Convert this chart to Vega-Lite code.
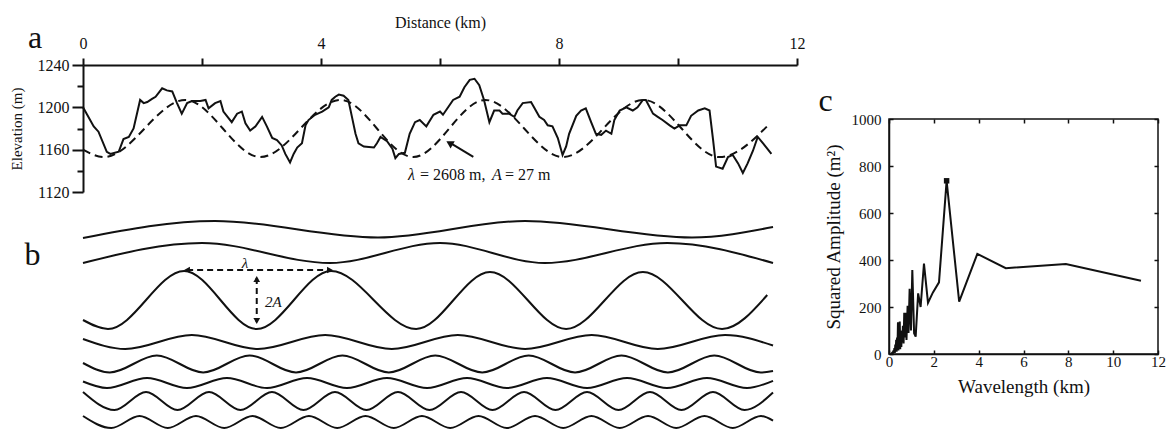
{
  "$schema": "https://vega.github.io/schema/vega-lite/v6.json",
  "background": "white",
  "padding": {"left": 9, "top": 14, "right": 0, "bottom": 0},
  "config": {
    "view": {"stroke": null},
    "font": "Liberation Serif",
    "axis": {"grid": false, "domainColor": "#111", "tickColor": "#111", "labelColor": "#111", "titleColor": "#111", "labelFont": "Liberation Serif", "titleFont": "Liberation Serif", "titleFontWeight": "normal", "labelFlush": false, "labelOverlap": false}
  },
  "datasets": {
    "solid": [
      {"x":0,"y":1200},{"x":0.08,"y":1192},{"x":0.18,"y":1182},{"x":0.26,"y":1177},{"x":0.40,"y":1158},{"x":0.46,"y":1156},{"x":0.6,"y":1158},{"x":0.68,"y":1170},{"x":0.77,"y":1172},{"x":0.85,"y":1180},{"x":0.96,"y":1207},{"x":1.02,"y":1204},{"x":1.08,"y":1205},{"x":1.16,"y":1208},{"x":1.22,"y":1210},{"x":1.33,"y":1218},{"x":1.41,"y":1216},{"x":1.5,"y":1215},{"x":1.58,"y":1204},{"x":1.66,"y":1194},{"x":1.75,"y":1204},{"x":1.83,"y":1206},{"x":1.97,"y":1206},{"x":2.06,"y":1207},{"x":2.11,"y":1199},{"x":2.22,"y":1204},{"x":2.31,"y":1206},{"x":2.36,"y":1196},{"x":2.50,"y":1186},{"x":2.59,"y":1194},{"x":2.67,"y":1196},{"x":2.73,"y":1185},{"x":2.81,"y":1178},{"x":2.9,"y":1182},{"x":3.01,"y":1191},{"x":3.09,"y":1182},{"x":3.18,"y":1171},{"x":3.26,"y":1169},{"x":3.34,"y":1164},{"x":3.40,"y":1156},{"x":3.48,"y":1148},{"x":3.54,"y":1156},{"x":3.6,"y":1162},{"x":3.68,"y":1166},{"x":3.74,"y":1183},{"x":3.79,"y":1188},{"x":3.90,"y":1193},{"x":4.02,"y":1196},{"x":4.13,"y":1200},{"x":4.18,"y":1207},{"x":4.24,"y":1210},{"x":4.30,"y":1212},{"x":4.38,"y":1211},{"x":4.46,"y":1207},{"x":4.52,"y":1191},{"x":4.58,"y":1175},{"x":4.63,"y":1166},{"x":4.72,"y":1163},{"x":4.89,"y":1162},{"x":4.94,"y":1166},{"x":5.0,"y":1172},{"x":5.11,"y":1168},{"x":5.2,"y":1161},{"x":5.25,"y":1152},{"x":5.31,"y":1156},{"x":5.41,"y":1157},{"x":5.49,"y":1175},{"x":5.58,"y":1186},{"x":5.66,"y":1188},{"x":5.77,"y":1182},{"x":5.89,"y":1193},{"x":6.0,"y":1196},{"x":6.05,"y":1193},{"x":6.22,"y":1207},{"x":6.33,"y":1210},{"x":6.41,"y":1219},{"x":6.5,"y":1226},{"x":6.58,"y":1227},{"x":6.66,"y":1221},{"x":6.74,"y":1207},{"x":6.83,"y":1186},{"x":6.91,"y":1197},{"x":7.0,"y":1197},{"x":7.05,"y":1194},{"x":7.16,"y":1194},{"x":7.25,"y":1191},{"x":7.3,"y":1197},{"x":7.39,"y":1204},{"x":7.53,"y":1205},{"x":7.58,"y":1200},{"x":7.67,"y":1191},{"x":7.75,"y":1188},{"x":7.81,"y":1183},{"x":7.89,"y":1182},{"x":7.98,"y":1171},{"x":8.06,"y":1155},{"x":8.12,"y":1163},{"x":8.17,"y":1175},{"x":8.29,"y":1192},{"x":8.37,"y":1197},{"x":8.45,"y":1199},{"x":8.54,"y":1186},{"x":8.62,"y":1175},{"x":8.71,"y":1174},{"x":8.79,"y":1178},{"x":8.88,"y":1175},{"x":8.93,"y":1188},{"x":9.02,"y":1197},{"x":9.13,"y":1200},{"x":9.24,"y":1197},{"x":9.32,"y":1200},{"x":9.41,"y":1207},{"x":9.46,"y":1207},{"x":9.58,"y":1194},{"x":9.66,"y":1191},{"x":9.74,"y":1188},{"x":9.86,"y":1183},{"x":9.94,"y":1180},{"x":10.03,"y":1183},{"x":10.14,"y":1183},{"x":10.22,"y":1192},{"x":10.34,"y":1197},{"x":10.45,"y":1199},{"x":10.53,"y":1197},{"x":10.59,"y":1169},{"x":10.64,"y":1144},{"x":10.75,"y":1142},{"x":10.84,"y":1153},{"x":10.92,"y":1155},{"x":11.01,"y":1147},{"x":11.09,"y":1138},{"x":11.17,"y":1147},{"x":11.26,"y":1159},{"x":11.34,"y":1172},{"x":11.43,"y":1166},{"x":11.57,"y":1156}
    ],
    "dashed": [
      {"x":0,"y":1160},{"x":0.35,"y":1153},{"x":1.72,"y":1207},{"x":2.98,"y":1153},{"x":4.33,"y":1207},{"x":5.55,"y":1153},{"x":6.76,"y":1207},{"x":8.07,"y":1153},{"x":9.42,"y":1207},{"x":10.70,"y":1153},{"x":11.55,"y":1185}
    ],
    "curves": [
      {"c":"1","x":0,"y":190},{"c":"1","x":2.218,"y":207},{"c":"1","x":4.958,"y":190.5},{"c":"1","x":7.429,"y":207},{"c":"1","x":10.235,"y":190.5},{"c":"1","x":11.597,"y":201},
      {"c":"2","x":0,"y":165},{"c":"2","x":2.0,"y":185},{"c":"2","x":4.15,"y":165},{"c":"2","x":6.0,"y":185},{"c":"2","x":7.76,"y":165},{"c":"2","x":9.82,"y":185},{"c":"2","x":11.597,"y":165},
      {"c":"3","x":0,"y":108},{"c":"3","x":0.42,"y":99},{"c":"3","x":1.70,"y":157},{"c":"3","x":2.92,"y":99},{"c":"3","x":4.17,"y":157},{"c":"3","x":5.60,"y":99},{"c":"3","x":6.84,"y":156},{"c":"3","x":8.12,"y":99},{"c":"3","x":9.41,"y":156},{"c":"3","x":10.74,"y":99},{"c":"3","x":11.50,"y":133},
      {"c":"4","x":0,"y":89},{"c":"4","x":0.71,"y":79},{"c":"4","x":1.83,"y":93},{"c":"4","x":2.94,"y":79},{"c":"4","x":4.07,"y":93},{"c":"4","x":5.19,"y":79},{"c":"4","x":6.30,"y":93},{"c":"4","x":7.43,"y":79},{"c":"4","x":8.55,"y":93},{"c":"4","x":9.66,"y":79},{"c":"4","x":10.79,"y":93},{"c":"4","x":11.597,"y":82.5},
      {"c":"5","x":0,"y":65},{"c":"5","x":0.45,"y":55.5},{"c":"5","x":1.24,"y":72.5},{"c":"5","x":2.02,"y":55.5},{"c":"5","x":2.80,"y":72.5},{"c":"5","x":3.58,"y":55.5},{"c":"5","x":4.36,"y":72.5},{"c":"5","x":5.14,"y":55.5},{"c":"5","x":5.92,"y":72.5},{"c":"5","x":6.71,"y":55.5},{"c":"5","x":7.49,"y":72.5},{"c":"5","x":8.27,"y":55.5},{"c":"5","x":9.05,"y":72.5},{"c":"5","x":9.83,"y":55.5},{"c":"5","x":10.61,"y":72.5},{"c":"5","x":11.39,"y":55.5},{"c":"5","x":11.597,"y":57},
      {"c":"6","x":0,"y":46.5},{"c":"6","x":0.403,"y":40},{"c":"6","x":1.076,"y":50},{"c":"6","x":1.748,"y":40},{"c":"6","x":2.420,"y":50},{"c":"6","x":3.092,"y":40},{"c":"6","x":3.765,"y":50},{"c":"6","x":4.437,"y":40},{"c":"6","x":5.109,"y":50},{"c":"6","x":5.782,"y":40},{"c":"6","x":6.454,"y":50},{"c":"6","x":7.126,"y":40},{"c":"6","x":7.798,"y":50},{"c":"6","x":8.471,"y":40},{"c":"6","x":9.143,"y":50},{"c":"6","x":9.815,"y":40},{"c":"6","x":10.487,"y":50},{"c":"6","x":11.160,"y":40},{"c":"6","x":11.597,"y":47.2},
      {"c":"7","x":0,"y":36},{"c":"7","x":0.529,"y":18},{"c":"7","x":1.059,"y":36},{"c":"7","x":1.588,"y":18},{"c":"7","x":2.118,"y":36},{"c":"7","x":2.647,"y":18},{"c":"7","x":3.176,"y":36},{"c":"7","x":3.706,"y":18},{"c":"7","x":4.235,"y":36},{"c":"7","x":4.765,"y":18},{"c":"7","x":5.294,"y":36},{"c":"7","x":5.824,"y":18},{"c":"7","x":6.353,"y":36},{"c":"7","x":6.882,"y":18},{"c":"7","x":7.412,"y":36},{"c":"7","x":7.941,"y":18},{"c":"7","x":8.471,"y":36},{"c":"7","x":9.0,"y":18},{"c":"7","x":9.529,"y":36},{"c":"7","x":10.059,"y":18},{"c":"7","x":10.588,"y":36},{"c":"7","x":11.118,"y":18},{"c":"7","x":11.597,"y":35.5},
      {"c":"8","x":0,"y":12},{"c":"8","x":0.475,"y":0},{"c":"8","x":0.95,"y":12},{"c":"8","x":1.424,"y":0},{"c":"8","x":1.899,"y":12},{"c":"8","x":2.374,"y":0},{"c":"8","x":2.849,"y":12},{"c":"8","x":3.324,"y":0},{"c":"8","x":3.798,"y":12},{"c":"8","x":4.273,"y":0},{"c":"8","x":4.748,"y":12},{"c":"8","x":5.223,"y":0},{"c":"8","x":5.697,"y":12},{"c":"8","x":6.172,"y":0},{"c":"8","x":6.647,"y":12},{"c":"8","x":7.122,"y":0},{"c":"8","x":7.597,"y":12},{"c":"8","x":8.071,"y":0},{"c":"8","x":8.546,"y":12},{"c":"8","x":9.021,"y":0},{"c":"8","x":9.496,"y":12},{"c":"8","x":9.971,"y":0},{"c":"8","x":10.445,"y":12},{"c":"8","x":10.92,"y":0},{"c":"8","x":11.395,"y":12},{"c":"8","x":11.597,"y":7.4}
    ],
    "spectrum": [
      {"x":0.07,"y":0},{"x":0.10,"y":1},{"x":0.14,"y":5},{"x":0.17,"y":3},{"x":0.20,"y":15},{"x":0.22,"y":8},{"x":0.24,"y":25},{"x":0.26,"y":5},{"x":0.28,"y":40},{"x":0.30,"y":15},{"x":0.32,"y":60},{"x":0.34,"y":10},{"x":0.36,"y":70},{"x":0.38,"y":30},{"x":0.40,"y":135},{"x":0.42,"y":15},{"x":0.44,"y":85},{"x":0.46,"y":40},{"x":0.48,"y":138},{"x":0.50,"y":20},{"x":0.52,"y":100},{"x":0.55,"y":30},{"x":0.57,"y":95},{"x":0.60,"y":60},{"x":0.62,"y":120},{"x":0.65,"y":45},{"x":0.68,"y":175},{"x":0.71,"y":70},{"x":0.75,"y":175},{"x":0.78,"y":60},{"x":0.83,"y":205},{"x":0.87,"y":90},{"x":0.92,"y":278},{"x":0.98,"y":100},{"x":1.04,"y":357},{"x":1.12,"y":88},{"x":1.19,"y":74},{"x":1.30,"y":258},{"x":1.41,"y":200},{"x":1.56,"y":385},{"x":1.74,"y":218},{"x":1.96,"y":262},{"x":2.23,"y":305},{"x":2.57,"y":737},{"x":3.13,"y":223},{"x":3.94,"y":426},{"x":5.21,"y":365},{"x":7.89,"y":383},{"x":11.24,"y":312}
    ]
  },
  "spacing": 12,
  "hconcat": [
    {
      "spacing": 12,
      "vconcat": [
        {
          "width": 714,
          "height": 127,
          "encoding": {
            "x": {"field": "x", "type": "quantitative", "scale": {"domain": [0, 12], "nice": false, "zero": false},
              "axis": {"orient": "top", "values": [0, 2, 4, 6, 8, 10, 12], "format": "d", "labelExpr": "datum.value % 4 === 0 ? datum.label : ''", "title": "Distance (km)", "titleFont": "Liberation Serif", "labelFont": "Liberation Serif", "titleFontSize": 16, "titlePadding": 5, "labelFontSize": 16, "labelPadding": 7, "tickSize": 7, "tickWidth": 2, "domainWidth": 2}},
            "y": {"field": "y", "type": "quantitative", "scale": {"domain": [1120, 1240], "nice": false, "zero": false},
              "axis": {"orient": "left", "values": [1120, 1140, 1160, 1180, 1200, 1220, 1240], "format": "d", "labelExpr": "datum.value % 40 === 0 ? datum.label : ''", "title": "Elevation (m)", "titleFont": "Liberation Serif", "labelFont": "Liberation Serif", "titleFontSize": 15, "titlePadding": 13, "labelFontSize": 16, "labelPadding": 3, "tickSize": {"condition": {"test": "datum.value % 40 === 0", "value": 11}, "value": 6}, "tickWidth": 2, "domainWidth": 2}}
          },
          "layer": [
            {"data": {"name": "solid"}, "mark": {"type": "line", "color": "#111", "strokeWidth": 2}},
            {"data": {"name": "dashed"}, "mark": {"type": "line", "color": "#111", "strokeWidth": 2, "strokeDash": [8, 5], "interpolate": "monotone"}},
            {"data": {"values": [{"x": 6.56, "y": 1153.2}, {"x": 6.17, "y": 1166.5}]}, "mark": {"type": "line", "color": "#111", "strokeWidth": 2}},
            {"data": {"values": [{"x": 6.16, "y": 1166.3}]}, "mark": {"type": "point", "shape": "triangle-up", "filled": true, "color": "#111", "size": 70, "angle": 300, "opacity": 1}},
            {"data": {"values": [{"x": 5.664, "y": 1131.3, "t": "= 2608 m,"}, {"x": 7.092, "y": 1131.3, "t": "= 27 m"}]}, "mark": {"type": "text", "font": "Liberation Serif", "fontSize": 16, "align": "left", "baseline": "alphabetic", "color": "#111"}, "encoding": {"text": {"field": "t"}}},
            {"data": {"values": [{"x": 5.462, "y": 1131.3, "t": "λ"}, {"x": 6.874, "y": 1131.3, "t": "A"}]}, "mark": {"type": "text", "font": "Liberation Serif", "fontSize": 16, "fontStyle": "italic", "align": "left", "baseline": "alphabetic", "color": "#111"}, "encoding": {"text": {"field": "t"}}},
            {"data": {"values": [{"x": -0.807, "y": 1256, "t": "a"}]}, "mark": {"type": "text", "font": "Liberation Serif", "fontSize": 32, "align": "center", "baseline": "alphabetic", "color": "#111"}, "encoding": {"text": {"field": "t"}}}
          ]
        },
        {
          "width": 714,
          "height": 216,
          "encoding": {
            "x": {"field": "x", "type": "quantitative", "scale": {"domain": [0, 12], "nice": false, "zero": false}, "axis": null},
            "y": {"field": "y", "type": "quantitative", "scale": {"domain": [0, 216], "nice": false, "zero": false}, "axis": null}
          },
          "layer": [
            {"data": {"name": "curves"}, "mark": {"type": "line", "color": "#111", "strokeWidth": 2, "interpolate": "monotone"}, "encoding": {"detail": {"field": "c"}}},
            {"data": {"values": [{"x": 1.75, "y": 158, "g": "h"}, {"x": 4.15, "y": 158, "g": "h"}, {"x": 2.92, "y": 150, "g": "v"}, {"x": 2.92, "y": 106, "g": "v"}]}, "mark": {"type": "line", "color": "#111", "strokeWidth": 2, "strokeDash": [6, 4]}, "encoding": {"detail": {"field": "g"}}},
            {"data": {"values": [{"x": 1.748, "y": 158, "s": "triangle-left"}, {"x": 4.151, "y": 158, "s": "triangle-right"}, {"x": 2.92, "y": 149, "s": "triangle-up"}, {"x": 2.92, "y": 107, "s": "triangle-down"}]}, "mark": {"type": "point", "filled": true, "color": "#111", "size": 45, "opacity": 1}, "encoding": {"shape": {"field": "s", "type": "nominal", "scale": null}}},
            {"data": {"values": [{"x": 2.723, "y": 160, "t": "λ"}]}, "mark": {"type": "text", "font": "Liberation Serif", "fontSize": 15, "fontStyle": "italic", "align": "center", "baseline": "alphabetic", "color": "#111"}, "encoding": {"text": {"field": "t"}}},
            {"data": {"values": [{"x": 3.06, "y": 126, "t": "2A"}]}, "mark": {"type": "text", "font": "Liberation Serif", "fontSize": 15, "fontStyle": "italic", "align": "left", "baseline": "middle", "color": "#111"}, "encoding": {"text": {"field": "t"}}},
            {"data": {"values": [{"x": -0.849, "y": 163, "t": "b"}]}, "mark": {"type": "text", "font": "Liberation Serif", "fontSize": 32, "align": "center", "baseline": "alphabetic", "color": "#111"}, "encoding": {"text": {"field": "t"}}}
          ]
        }
      ]
    },
    {
      "spacing": 15,
      "vconcat": [
        {"width": 10, "height": 2, "data": {"values": [{}]}, "mark": {"type": "point", "opacity": 0}, "encoding": {}},
        {
          "width": 269,
          "height": 235,
          "view": {"stroke": "#111", "strokeWidth": 1.5},
          "resolve": {"axis": {"x": "independent", "y": "independent"}},
          "layer": [
            {"data": {"name": "spectrum"}, "mark": {"type": "line", "color": "#111", "strokeWidth": 2},
              "encoding": {
                "x": {"field": "x", "type": "quantitative", "scale": {"domain": [0, 12], "nice": false, "zero": false},
                  "axis": {"orient": "bottom", "values": [0, 2, 4, 6, 8, 10, 12], "format": "d", "labelFont": "Liberation Serif", "titleFont": "Liberation Serif", "labelFontSize": 15, "tickSize": -4, "labelPadding": 4, "tickWidth": 1.5, "domainWidth": 1.5, "title": "Wavelength (km)", "titleFontSize": 19, "titlePadding": 8}},
                "y": {"field": "y", "type": "quantitative", "scale": {"domain": [0, 1000], "nice": false, "zero": false},
                  "axis": {"orient": "left", "values": [0, 200, 400, 600, 800, 1000], "format": "d", "labelFont": "Liberation Serif", "titleFont": "Liberation Serif", "labelFontSize": 15, "tickSize": -4, "labelPadding": 12, "tickWidth": 1.5, "domainWidth": 1.5, "title": "Squared Amplitude (m²)", "titleFontSize": 19, "titlePadding": 8}}
              }},
            {"data": {"values": [{"x": 2.57, "y": 737}]}, "mark": {"type": "point", "shape": "square", "filled": true, "color": "#111", "size": 30, "opacity": 1},
              "encoding": {
                "x": {"field": "x", "type": "quantitative", "scale": {"domain": [0, 12], "nice": false, "zero": false},
                  "axis": {"orient": "top", "values": [0, 2, 4, 6, 8, 10, 12], "labels": false, "tickSize": -4, "tickWidth": 1.5, "domain": false, "title": null}},
                "y": {"field": "y", "type": "quantitative", "scale": {"domain": [0, 1000], "nice": false, "zero": false},
                  "axis": {"orient": "right", "values": [0, 200, 400, 600, 800, 1000], "labels": false, "tickSize": -4, "tickWidth": 1.5, "domain": false, "title": null}}
              }},
            {"data": {"values": [{"x": -2.83, "y": 1034, "t": "c"}]}, "mark": {"type": "text", "font": "Liberation Serif", "fontSize": 32, "align": "center", "baseline": "alphabetic", "color": "#111"},
              "encoding": {
                "x": {"field": "x", "type": "quantitative", "scale": {"domain": [0, 12], "nice": false, "zero": false}, "axis": null},
                "y": {"field": "y", "type": "quantitative", "scale": {"domain": [0, 1000], "nice": false, "zero": false}, "axis": null},
                "text": {"field": "t"}
              }}
          ]
        }
      ]
    }
  ]
}
